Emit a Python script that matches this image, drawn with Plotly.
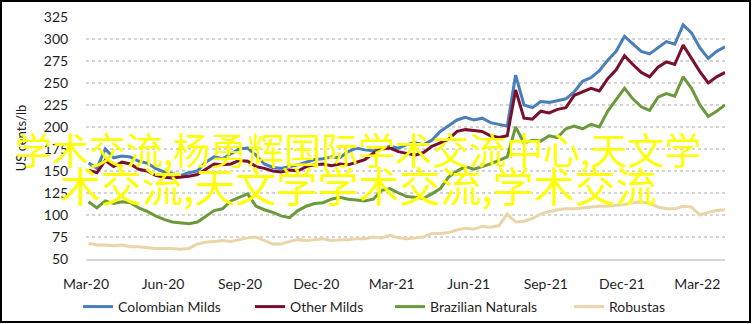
import pandas as pd
import plotly.graph_objects as go

# ---- data (US cents/lb), sampled every 10 days from 2020-03-04 ----
start = pd.Timestamp("2020-03-04")
dates = [start + pd.Timedelta(days=10 * k) for k in range(77)]

colombian_milds = [159, 153, 175, 165, 167, 166, 161, 159, 153, 149,
                   147, 145, 148, 150, 160, 166, 164, 170, 175, 176,
                   168, 158, 154, 153, 155, 157, 160, 163, 164, 166,
                   165, 172, 176, 174, 173, 175, 178, 176, 180, 182,
                   180, 185, 195, 202, 208, 211, 208, 210, 205, 203,
                   201, 259, 225, 222, 229, 228, 230, 232, 240, 252,
                   256, 264, 276, 286, 303, 295, 286, 283, 290, 297,
                   294, 316, 307, 290, 278, 286, 291]

other_milds = [151, 148, 162, 155, 160, 158, 152, 150, 145, 143,
               142, 143, 144, 146, 152, 158, 157, 158, 162, 161,
               155, 153, 150, 149, 151, 150, 155, 157, 158, 156,
               158, 157, 160, 163, 170, 175, 176, 172, 170, 168,
               171, 178, 182, 186, 195, 197, 196, 195, 190, 188,
               190, 242, 210, 209, 218, 216, 220, 222, 236, 240,
               244, 241, 255, 265, 281, 271, 262, 257, 268, 274,
               271, 293, 278, 263, 250, 257, 262]

brazilian_naturals = [115, 108, 116, 113, 115, 114, 108, 104, 99, 95,
                      92, 91, 90, 92, 98, 105, 107, 116, 120, 124,
                      110, 106, 103, 99, 97, 105, 110, 113, 114, 118,
                      120, 118, 117, 116, 118, 128, 130, 125, 121, 120,
                      119, 124, 130, 143, 150, 155, 152, 155, 158, 162,
                      166, 200, 182, 185, 184, 190, 188, 198, 201, 198,
                      203, 200, 218, 231, 244, 232, 223, 219, 234, 238,
                      235, 257, 244, 225, 212, 218, 225]

robustas = [68, 66, 66, 65, 66, 64, 64, 63, 62, 62,
            62, 61, 62, 67, 69, 70, 71, 70, 72, 74,
            75, 71, 67, 67, 70, 72, 71, 72, 73, 71,
            72, 72, 73, 73, 75, 74, 77, 74, 73, 74,
            75, 79, 79, 80, 83, 85, 84, 87, 86, 88,
            101, 92, 93, 96, 101, 104, 106, 107, 107, 108,
            109, 110, 110, 111, 112, 114, 115, 113, 109, 107,
            107, 110, 109, 100, 103, 105, 106]

series_names = ["Colombian Milds", "Other Milds", "Brazilian Naturals", "Robustas"]
series_values = [colombian_milds, other_milds, brazilian_naturals, robustas]
series_colors = ["#4a7ebb", "#78102e", "#6b9a3c", "#ead5a8"]

tick_dates = ["2020-03-01", "2020-06-01", "2020-09-01", "2020-12-01", "2021-03-01",
              "2021-06-01", "2021-09-01", "2021-12-01", "2022-03-01"]
tick_labels = ["Mar-20", "Jun-20", "Sep-20", "Dec-20", "Mar-21",
               "Jun-21", "Sep-21", "Dec-21", "Mar-22"]
y_ticks = [50, 75, 100, 125, 150, 175, 200, 225, 250, 275, 300, 325]

watermark_lines = ["学术交流,杨勇辉国际学术交流中心,天文学", "术交流,天文学学术交流,学术交流"]

FONT = "Lato, 'Open Sans', sans-serif"
TXT = "#1f1f1f"

W, H = 752, 324
ml, mr, mt, mb = 86, 27, 17, 65
pw, ph = W - ml - mr, H - mt - mb

def px_to_paper(px, py):
    return (px - ml) / pw, (H - mb - py) / ph

legend_keys = ["legend", "legend2", "legend3", "legend4"]
legend_line_starts = [84, 256, 396, 575]

fig = go.Figure()
for name, vals, col, lk in zip(series_names, series_values, series_colors, legend_keys):
    fig.add_trace(go.Scatter(x=dates, y=vals, mode="lines", name=name, legend=lk,
                             line=dict(color=col, width=3)))

x0, y0 = px_to_paper(1, 1)
x1, y1 = px_to_paper(750, 322)
fig.add_shape(type="rect", xref="paper", yref="paper", x0=x0, y0=y0, x1=x1, y1=y1,
              line=dict(color="black", width=2), fillcolor="rgba(0,0,0,0)", layer="above")

for txt, cy, fs in zip(watermark_lines, [149, 184], [37, 41]):
    ax, ay = px_to_paper(358, cy)
    fig.add_annotation(text=txt, xref="paper", yref="paper", x=ax, y=ay,
                       xanchor="center", yanchor="middle", showarrow=False,
                       font=dict(family="'Noto Sans CJK SC'", size=fs, color="#ffff00"))

legend_layout = {}
for lk, lx in zip(legend_keys, legend_line_starts):
    px_x, px_y = px_to_paper(lx - 6, 307)
    legend_layout[lk] = dict(orientation="h", x=px_x, xanchor="left", y=px_y, yanchor="middle",
                             font=dict(family=FONT, size=14, color=TXT), itemwidth=30,
                             bgcolor="rgba(0,0,0,0)", borderwidth=0)

fig.update_layout(
    width=W, height=H,
    margin=dict(l=ml, r=mr, t=mt, b=mb, autoexpand=False),
    paper_bgcolor="white", plot_bgcolor="white",
    font=dict(family=FONT, size=14, color=TXT),
    showlegend=True,
    xaxis=dict(type="date", range=["2020-03-01", "2022-04-03"],
               tickvals=tick_dates, ticktext=tick_labels,
               showgrid=False, showline=True, linecolor="#d9d9d9", linewidth=2,
               ticks="outside", ticklen=11, tickcolor="rgba(0,0,0,0)",
               tickfont=dict(family=FONT, size=14, color=TXT), zeroline=False),
    yaxis=dict(range=[50, 325], tickvals=y_ticks,
               showgrid=True, gridcolor="#d4d4d4", gridwidth=2, griddash="dot",
               ticks="outside", ticklen=14, tickcolor="rgba(0,0,0,0)",
               tickfont=dict(family=FONT, size=14, color=TXT), zeroline=False,
               title=dict(text="US cents/lb", font=dict(family=FONT, size=13, color=TXT), standoff=14)),
    **legend_layout,
)

fig.write_html("out.html")
